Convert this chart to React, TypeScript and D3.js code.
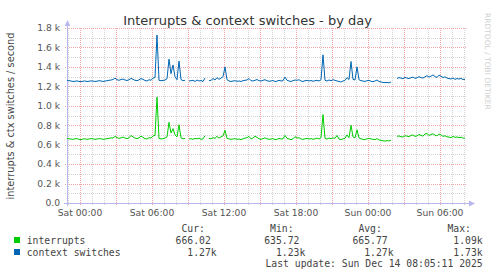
import React from "react";
import * as d3 from "d3";

const W = 497;
const H = 276;

// time axis: samples every 10 minutes starting Fri 22:55
const startTime = new Date(2025, 11, 12, 22, 55);
const endTime = new Date(2025, 11, 14, 8, 15);
const stepMinutes = 10;

const interrupts: (number | null)[] = [
  665, 660, 658, 655, 660, 662, 655, 652, 658, 660,
  655, 658, 662, 660, 655, 658, 662, 660, 655, 658,
  662, 665, 670, 668, 685, 672, 665, 670, 678, 668,
  662, 670, 695, 680, 668, 662, 670, 688, 675, 662,
  658, 672, 668, 690, 695, 1090, 665, 658, 662, 668,
  680, 830, 720, 765, 700, 680, 805, 670, 660, 665,
  null, 658, 662, 655, 665, 660, 668, 655, 660, 692,
  null, 665, 660, 672, 665, 685, 668, 680, 690, 748,
  665, 660, 655, 658, 662, 655, 658, 652, 660, 668,
  672, 685, 660, 668, 688, 675, 660, 655, 662, 670,
  660, 655, 658, 662, 652, 655, 665, 658, 660, 695,
  665, 658, 652, 660, 682, 668, 672, 658, 655, 660,
  665, 658, 662, 655, 660, 668, 658, 672, 910, 665,
  658, 668, 662, 670, 665, 695, 658, 652, 660, 665,
  700, 672, 800, 680, 670, 754, 670, 660, 655, 652,
  660, 665, 658, 655, 652, 662, 648, 645, 640, 636,
  642, 638, 645, null, null, 685, 690, 682, 678, 692,
  688, 682, 695, 700, 685, 690, 705, 695, 688, 710,
  715, 695, 705, 712, 698, 690, 710, 700, 685, 692,
  680, 678, 672, 685, 675, 680, 672, 678, 668, 666,
];

const contextSwitches: (number | null)[] = [
  1262, 1258, 1255, 1250, 1252, 1256, 1250, 1248, 1253, 1255,
  1250, 1252, 1256, 1254, 1250, 1253, 1258, 1255, 1250, 1254,
  1258, 1262, 1265, 1270, 1285, 1268, 1262, 1270, 1275, 1265,
  1260, 1268, 1282, 1272, 1262, 1258, 1266, 1280, 1272, 1260,
  1255, 1268, 1262, 1285, 1290, 1728, 1262, 1258, 1260, 1265,
  1278, 1480, 1330, 1420, 1300, 1268, 1460, 1270, 1258, 1262,
  null, 1255, 1258, 1262, 1250, 1265, 1255, 1260, 1250, 1285,
  null, 1258, 1262, 1280, 1265, 1290, 1272, 1285, 1300, 1400,
  1268, 1255, 1250, 1255, 1258, 1252, 1255, 1250, 1258, 1262,
  1265, 1280, 1258, 1255, 1262, 1270, 1258, 1255, 1262, 1268,
  1258, 1252, 1255, 1260, 1250, 1253, 1262, 1255, 1258, 1295,
  1262, 1255, 1250, 1258, 1265, 1262, 1268, 1255, 1250, 1258,
  1262, 1255, 1260, 1252, 1258, 1262, 1255, 1268, 1524, 1262,
  1255, 1265, 1258, 1268, 1262, 1255, 1250, 1245, 1255, 1262,
  1290, 1270, 1455, 1272, 1265, 1400, 1268, 1258, 1255, 1250,
  1258, 1262, 1252, 1248, 1255, 1265, 1250, 1245, 1240, 1238,
  1240, 1235, 1245, null, null, 1280, 1290, 1285, 1278, 1292,
  1285, 1280, 1290, 1295, 1282, 1288, 1300, 1290, 1285, 1298,
  1310, 1295, 1305, 1318, 1300, 1292, 1315, 1305, 1290, 1298,
  1285, 1280, 1275, 1285, 1272, 1280, 1275, 1282, 1270, 1272,
];

const seriesNames = ["interrupts", "context switches"];
const seriesColors = ["#00CC00", "#0066B3"];
const yTickValues = [0, 200, 400, 600, 800, 1000, 1200, 1400, 1600, 1800];
const statHeaders = ["Cur:", "Min:", "Avg:", "Max:"];
const curValues = ["666.02", "1.27k"];
const minValues = ["635.72", "1.23k"];
const avgValues = ["665.77", "1.27k"];
const maxValues = ["1.09k", "1.73k"];
const titleText = "Interrupts & context switches - by day";
const yAxisTitle = "interrupts & ctx switches / second";
const lastUpdate = "Last update: Sun Dec 14 08:05:11 2025";
const sideText = "RRDTOOL / TOBI OETIKER";

const X0 = 67;
const X1 = 467;
const Y0 = 203;
const Y1 = 28;

const MAJOR = "#F4A4A4";
const MINOR = "#D4D4D4";
const AXIS = "#B8B8EE";
const MONO = "'DejaVu Sans Mono', monospace";
const SANS = "'DejaVu Sans', sans-serif";

export default function App() {
  const x = d3.scaleTime().domain([startTime, endTime]).range([X0, X1]);
  const y = d3.scaleLinear().domain([0, 1800]).range([Y0, Y1]);
  const times = interrupts.map((_, i) => d3.timeMinute.offset(startTime, i * stepMinutes));

  const line = d3
    .line<number | null>()
    .defined((d) => d != null)
    .x((_, i) => x(times[i]))
    .y((d) => y(d as number));

  const minorY = d3.range(100, 1801, 100).filter((v) => v % 200 !== 0);
  const minorX = d3.timeHour.range(startTime, endTime).filter((d) => d.getHours() % 3 !== 0);
  const majorX = d3.timeHour.every(3)!.range(startTime, endTime);
  const labelX = d3.timeHour.every(6)!.range(startTime, endTime);
  const fmt = d3.timeFormat("%a %H:%M");
  const px = (v: number) => Math.round(v) + 0.5;

  const cols = [216.7, 305.3, 393.6, 482.7];
  const charW = 5.87;
  const rows = [curValues, minValues, avgValues, maxValues];

  return (
    <svg width={W} height={H} style={{ position: "absolute", left: 0, top: 0, background: "#fff" }}>
      <rect x={0} y={0} width={W} height={H} fill="#fff" />
      <text x={247.5} y={24.5} textAnchor="middle" fontFamily={SANS} fontSize={13} fill="#333">
        {titleText}
      </text>
      <text
        transform={`translate(485,13) rotate(90)`}
        fontFamily={SANS}
        fontSize={7.5}
        fill="#cfcfcf"
      >
        {sideText}
      </text>
      <text
        transform={`translate(14,116) rotate(-90)`}
        textAnchor="middle"
        fontFamily={SANS}
        fontSize={9.8}
        fill="#444"
      >
        {yAxisTitle}
      </text>

      {/* minor grid */}
      {minorY.map((v) => (
        <line key={"my" + v} x1={X0 - 2} x2={X1} y1={px(y(v))} y2={px(y(v))} stroke={MINOR} strokeDasharray="1,1" />
      ))}
      {minorX.map((d) => (
        <line key={"mx" + d.getTime()} x1={px(x(d))} x2={px(x(d))} y1={Y1} y2={Y0 + 2} stroke={MINOR} strokeDasharray="1,1" />
      ))}
      {/* major grid */}
      {yTickValues.filter((v) => v > 0).map((v) => (
        <line key={"My" + v} x1={X0 - 2} x2={X1} y1={px(y(v))} y2={px(y(v))} stroke={MAJOR} strokeDasharray="1,1" />
      ))}
      {majorX.map((d) => (
        <line key={"Mx" + d.getTime()} x1={px(x(d))} x2={px(x(d))} y1={Y1} y2={Y0 + 2} stroke={MAJOR} strokeDasharray="1,1" />
      ))}

      {/* y labels */}
      {yTickValues.map((v) => (
        <text key={"yl" + v} x={60} y={y(v) + 3.3} textAnchor="end" fontFamily={SANS} fontSize={9.2} fill="#555">
          {v === 0 ? "0.0" : (v / 1000).toFixed(1) + " k"}
        </text>
      ))}
      {/* x labels */}
      {labelX.map((d) => (
        <text key={"xl" + d.getTime()} x={x(d)} y={215.5} textAnchor="middle" fontFamily={SANS} fontSize={9.2} fill="#555">
          {fmt(d)}
        </text>
      ))}

      {/* axes */}
      <line x1={px(X0)} x2={px(X0)} y1={Y0 + 3} y2={24} stroke={AXIS} />
      <path d={`M${X0 - 2.5},26 L${X0 + 3.5},26 L${X0 + 0.5},20 Z`} fill={AXIS} />
      <line x1={X0 - 3} x2={470} y1={px(Y0)} y2={px(Y0)} stroke={AXIS} />
      <path d={`M469,${Y0 - 2.5} L469,${Y0 + 3.5} L475,${Y0 + 0.5} Z`} fill={AXIS} />

      {/* series */}
      <path d={line(interrupts) || ""} fill="none" stroke={seriesColors[0]} strokeWidth={1} />
      <path d={line(contextSwitches) || ""} fill="none" stroke={seriesColors[1]} strokeWidth={1} />

      {/* legend */}
      {statHeaders.map((h, j) => (
        <text key={"h" + j} x={cols[j] - 2 * charW} y={231.5} textAnchor="end" fontFamily={MONO} fontSize={9.75} fill="#444">
          {h}
        </text>
      ))}
      {seriesNames.map((name, r) => (
        <g key={name}>
          <rect x={14} y={237 + r * 12} width={6} height={6} fill={seriesColors[r]} />
          <text x={26.7} y={243.5 + r * 12} fontFamily={MONO} fontSize={9.75} fill="#444">
            {name}
          </text>
          {rows.map((vals, j) => {
            const s = vals[r];
            const hasSuffix = /[a-zA-Z]$/.test(s);
            return (
              <text
                key={j}
                x={cols[j] - (hasSuffix ? 0 : charW)}
                y={243.5 + r * 12}
                textAnchor="end"
                fontFamily={MONO}
                fontSize={9.75}
                fill="#444"
              >
                {s}
              </text>
            );
          })}
        </g>
      ))}
      <text x={482.7} y={266.5} textAnchor="end" fontFamily={MONO} fontSize={9.75} fill="#444">
        {lastUpdate}
      </text>
    </svg>
  );
}
